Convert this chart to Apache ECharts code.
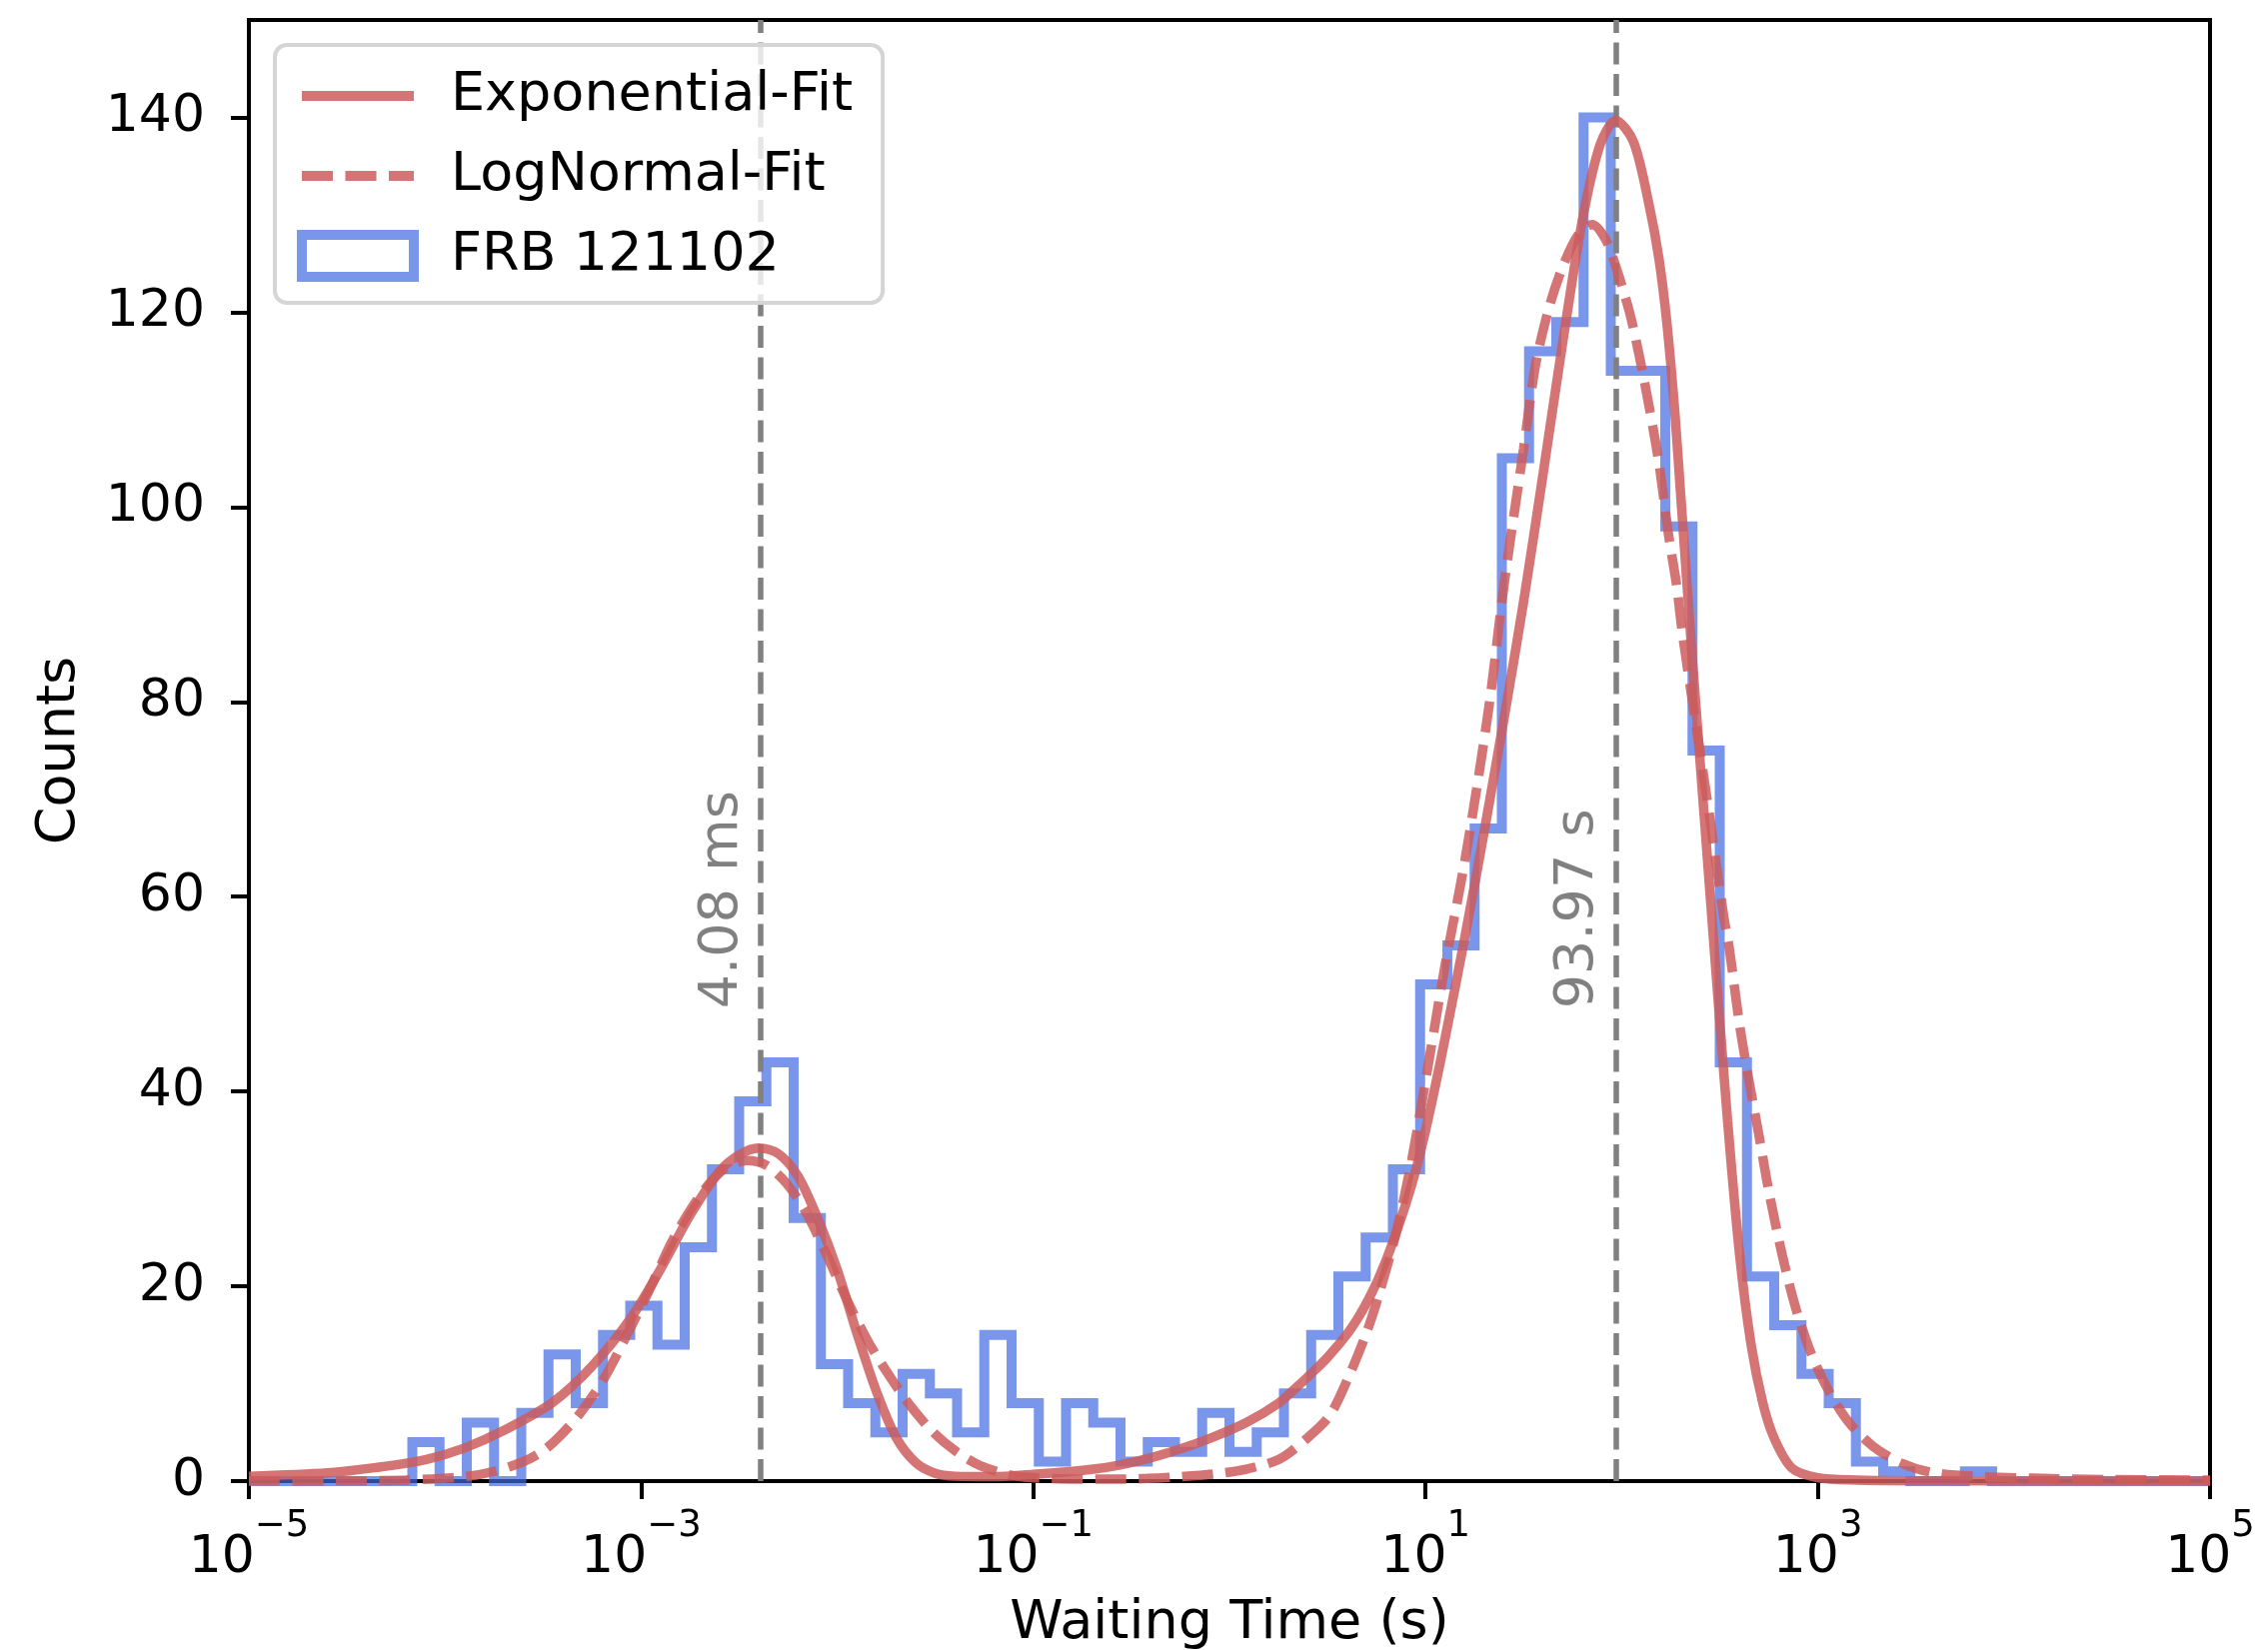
<!DOCTYPE html>
<html>
<head>
<meta charset="utf-8">
<title>FRB 121102 waiting time</title>
<script src="https://cdn.jsdelivr.net/npm/echarts@6/dist/echarts.min.js"></script>
<style>
  html, body { margin: 0; padding: 0; background: #fff; }
  #chart { width: 2269px; height: 1651px; }
</style>
</head>
<body>
<div id="chart"></div>
<script>
// histogram: 72 log-spaced bins from 1e-5 s to 1e5 s (edges in log10 seconds)
const histRange = [-5, 5];
const histCounts = [
  0, 0, 0, 0, 0, 0, 4, 0, 6, 0,
  7, 13, 8, 15, 18, 14, 24, 32, 39, 43,
  27, 12, 8, 5, 11, 9, 5, 15, 8, 2,
  8, 6, 2, 4, 3, 7, 3, 5, 9, 15,
  21, 25, 32, 51, 55, 67, 105, 116, 119, 140,
  114, 114, 98, 75, 43, 21, 16, 11, 8, 2,
  1, 0, 0, 1, 0, 0, 0, 0, 0, 0,
  0, 0
];

// fit curves, x = log10(waiting time / s)
const expFitLogT = [-5.0, -4.6, -4.35, -4.1, -3.9, -3.7, -3.45, -3.25, -3.05, -2.9,
  -2.75, -2.6, -2.5, -2.4, -2.3, -2.2, -2.1, -2.0, -1.9, -1.8,
  -1.7, -1.6, -1.5, -1.4, -1.2, -1.0, -0.8, -0.6, -0.4, -0.25,
  -0.085, 0.085, 0.25, 0.34, 0.42, 0.5, 0.6, 0.66, 0.71, 0.76,
  0.82, 0.9, 0.95, 1.0, 1.05, 1.1, 1.2, 1.3, 1.4, 1.5,
  1.6, 1.7, 1.8, 1.89, 1.97, 2.06, 2.14, 2.19, 2.23, 2.27,
  2.3, 2.33, 2.36, 2.42, 2.48, 2.54, 2.6, 2.66, 2.72, 2.78,
  2.87, 3.0, 3.2, 3.5, 4.0, 5.0];
const expFitCounts = [0.5, 0.85, 1.4, 2.2, 3.4, 5.2, 8.1, 11.8, 16.8, 21.8,
  27.3, 31.8, 33.5, 34.2, 33.6, 31.3, 27.0, 21.7, 15.2, 9.2,
  4.5, 1.9, 0.8, 0.5, 0.45, 0.7, 1.0, 1.5, 2.4, 3.3,
  4.5, 6.0, 8.0, 9.6, 11.1, 12.7, 15.1, 16.9, 18.7, 20.8,
  23.8, 28.5, 31.9, 36.0, 40.6, 45.5, 55.8, 66.8, 78.3, 90.3,
  103.5, 117.0, 129.5, 137.2, 139.7, 137.5, 131.0, 125.5, 119.0, 110.0,
  101.5, 93.0, 84.5, 68.5, 52.5, 37.0, 23.5, 14.0, 8.0, 4.3,
  1.3, 0.35, 0.1, 0.03, 0.01, 0];

const logNormLogT = [-5.0, -4.5, -4.2, -3.9, -3.75, -3.6, -3.5, -3.415, -3.31, -3.19,
  -3.075, -2.956, -2.837, -2.7, -2.58, -2.46, -2.36, -2.26, -2.16, -2.06,
  -1.95, -1.85, -1.75, -1.63, -1.51, -1.39, -1.27, -1.1, -0.9, -0.76,
  -0.6, -0.42, -0.25, -0.085, 0.085, 0.255, 0.39, 0.51, 0.61, 0.7,
  0.76, 0.85, 0.93, 1.02, 1.1, 1.19, 1.26, 1.33, 1.4, 1.5,
  1.56, 1.63, 1.7, 1.78, 1.85, 1.92, 1.97, 2.04, 2.09, 2.14,
  2.19, 2.24, 2.28, 2.31, 2.38, 2.45, 2.52, 2.55, 2.6, 2.65,
  2.7, 2.75, 2.82, 2.89, 2.97, 3.06, 3.16, 3.28, 3.42, 3.58,
  3.84, 4.1, 4.5, 5.0];
const logNormCounts = [0, 0.02, 0.1, 0.45, 1.0, 2.0, 3.1, 4.6, 7.0, 10.5,
  14.9, 19.7, 24.8, 29.3, 32.0, 32.9, 32.4, 30.6, 27.6, 23.5,
  18.6, 14.6, 11.3, 7.8, 5.0, 3.0, 1.57, 0.55, 0.25, 0.2,
  0.2, 0.27, 0.45, 0.72, 1.23, 2.26, 4.3, 6.7, 10.8, 15.3,
  19.0, 25.5, 33.0, 43.5, 53.0, 62.5, 71.0, 80.5, 92.0, 106.0,
  114.5, 120.5, 124.7, 128.0, 129.0, 127.4, 124.7, 120.0, 115.5, 110.3,
  104.5, 97.0, 92.0, 87.0, 77.5, 68.0, 58.0, 54.5, 47.0, 41.0,
  35.5, 29.8, 23.1, 17.6, 12.9, 9.1, 6.0, 3.6, 1.9, 0.9,
  0.45, 0.3, 0.15, 0.1];

// the two marked peaks (seconds)
const peakTimes = [0.00408, 93.97];
const peakLabels = ['4.08 ms', '93.97 s'];

const xTickExp = [-5, -3, -1, 1, 3, 5];
const yTicks = [0, 20, 40, 60, 80, 100, 120, 140];

const FONT = 'DejaVu Sans';
const RED = 'rgba(205,92,92,0.85)';
const BLUE = 'rgba(65,105,225,0.7)';
const GRAY = '#808080';

// step outline of the histogram (like histtype='step')
const binWidth = (histRange[1] - histRange[0]) / histCounts.length;
const histOutline = [[histRange[0], 0]];
histCounts.forEach((c, i) => {
  const lo = histRange[0] + i * binWidth;
  histOutline.push([lo, c], [lo + binWidth, c]);
});
histOutline.push([histRange[1], 0]);

const zip = (xs, ys) => xs.map((x, i) => [x, ys[i]]);

// legend line items: hide the round marker echarts puts on line icons
const noMarker = { color: 'rgba(0,0,0,0)', borderColor: 'rgba(0,0,0,0)', borderWidth: 0, opacity: 0 };

const chart = echarts.init(document.getElementById('chart'), null, { renderer: 'canvas' });

const option = {
  animation: false,
  backgroundColor: '#fff',
  grid: {
    left: 249, right: 58, top: 20, bottom: 169,
    containLabel: false,
    outerBoundsMode: 'none', // keep the plot box fixed, labels may reach the edge
    show: true, borderColor: '#000', borderWidth: 4, backgroundColor: 'transparent'
  },
  xAxis: {
    type: 'value',
    min: -5, max: 5,
    name: 'Waiting Time (s)',
    nameLocation: 'middle',
    nameGap: 116,
    nameTextStyle: { fontFamily: FONT, fontSize: 54, color: '#000' },
    axisLine: { show: true, onZero: false, lineStyle: { color: '#000', width: 4 } },
    axisTick: { show: true, length: 18, lineStyle: { color: '#000', width: 4 }, customValues: xTickExp },
    splitLine: { show: false },
    axisLabel: {
      customValues: xTickExp,
      margin: 27,
      formatter: v => '{b|10}{s|' + (v < 0 ? '\u2212' : '') + Math.abs(v) + '}',
      rich: {
        b: { fontFamily: FONT, fontSize: 52, color: '#000', lineHeight: 100, verticalAlign: 'middle' },
        s: { fontFamily: FONT, fontSize: 37, color: '#000', lineHeight: 36, verticalAlign: 'top' }
      }
    }
  },
  yAxis: {
    type: 'value',
    min: 0, max: 150,
    name: 'Counts',
    nameLocation: 'middle',
    nameGap: 162,
    nameTextStyle: { fontFamily: FONT, fontSize: 54, color: '#000' },
    axisLine: { show: true, onZero: false, lineStyle: { color: '#000', width: 4 } },
    axisTick: { show: true, length: 18, lineStyle: { color: '#000', width: 4 }, customValues: yTicks },
    splitLine: { show: false },
    axisLabel: {
      customValues: yTicks,
      margin: 44,
      fontFamily: FONT, fontSize: 52, color: '#000'
    }
  },
  legend: {
    orient: 'vertical',
    left: 275, top: 45,
    padding: [24, 30, 20, 22],
    itemWidth: 112, itemHeight: 42, itemGap: 26,
    backgroundColor: 'rgba(255,255,255,0.8)',
    borderColor: '#d5d5d5', borderWidth: 4, borderRadius: 12,
    textStyle: { fontFamily: FONT, fontSize: 54, color: '#000', lineHeight: 42, padding: [0, 0, 0, 32] },
    lineStyle: { width: 10 },
    data: [
      { name: 'Exponential-Fit', itemStyle: noMarker },
      { name: 'LogNormal-Fit', itemStyle: noMarker },
      { name: 'FRB 121102', icon: 'rect',
        itemStyle: { color: 'rgba(255,255,255,0)', borderColor: BLUE, borderWidth: 10, opacity: 1 } }
    ]
  },
  series: [
    {
      name: 'FRB 121102',
      type: 'line',
      data: histOutline,
      symbol: 'none',
      z: 2,
      itemStyle: { color: BLUE },
      lineStyle: { color: BLUE, width: 10, join: 'miter' },
      markLine: {
        silent: true,
        symbol: 'none',
        z: 3,
        label: { show: false },
        lineStyle: { color: GRAY, width: 5.5, type: [22, 9.5] },
        data: peakTimes.map(t => ({ xAxis: Math.log10(t) }))
      }
    },
    {
      name: 'Exponential-Fit',
      type: 'line',
      data: zip(expFitLogT, expFitCounts),
      smooth: 0.3,
      symbol: 'none',
      z: 4,
      itemStyle: { color: RED },
      lineStyle: { color: RED, width: 9.5 }
    },
    {
      name: 'LogNormal-Fit',
      type: 'line',
      data: zip(logNormLogT, logNormCounts),
      smooth: 0.3,
      symbol: 'none',
      z: 4,
      itemStyle: { color: RED },
      lineStyle: { color: RED, width: 9.5, type: [31, 12.5] }
    }
  ]
};

chart.setOption(option);

// rotated peak labels, placed through the axes' own scales
const labelCount = 48.5;
const texts = peakTimes.map((t, i) => {
  const p = chart.convertToPixel({ xAxisIndex: 0, yAxisIndex: 0 }, [Math.log10(t), labelCount]);
  return {
    type: 'text',
    x: p[0] - 38,
    y: p[1],
    rotation: Math.PI / 2,
    z: 10,
    style: {
      text: peakLabels[i],
      fill: GRAY,
      font: '54px "DejaVu Sans"',
      align: 'left',
      verticalAlign: 'middle'
    }
  };
});
chart.setOption({ graphic: texts });
</script>
</body>
</html>
